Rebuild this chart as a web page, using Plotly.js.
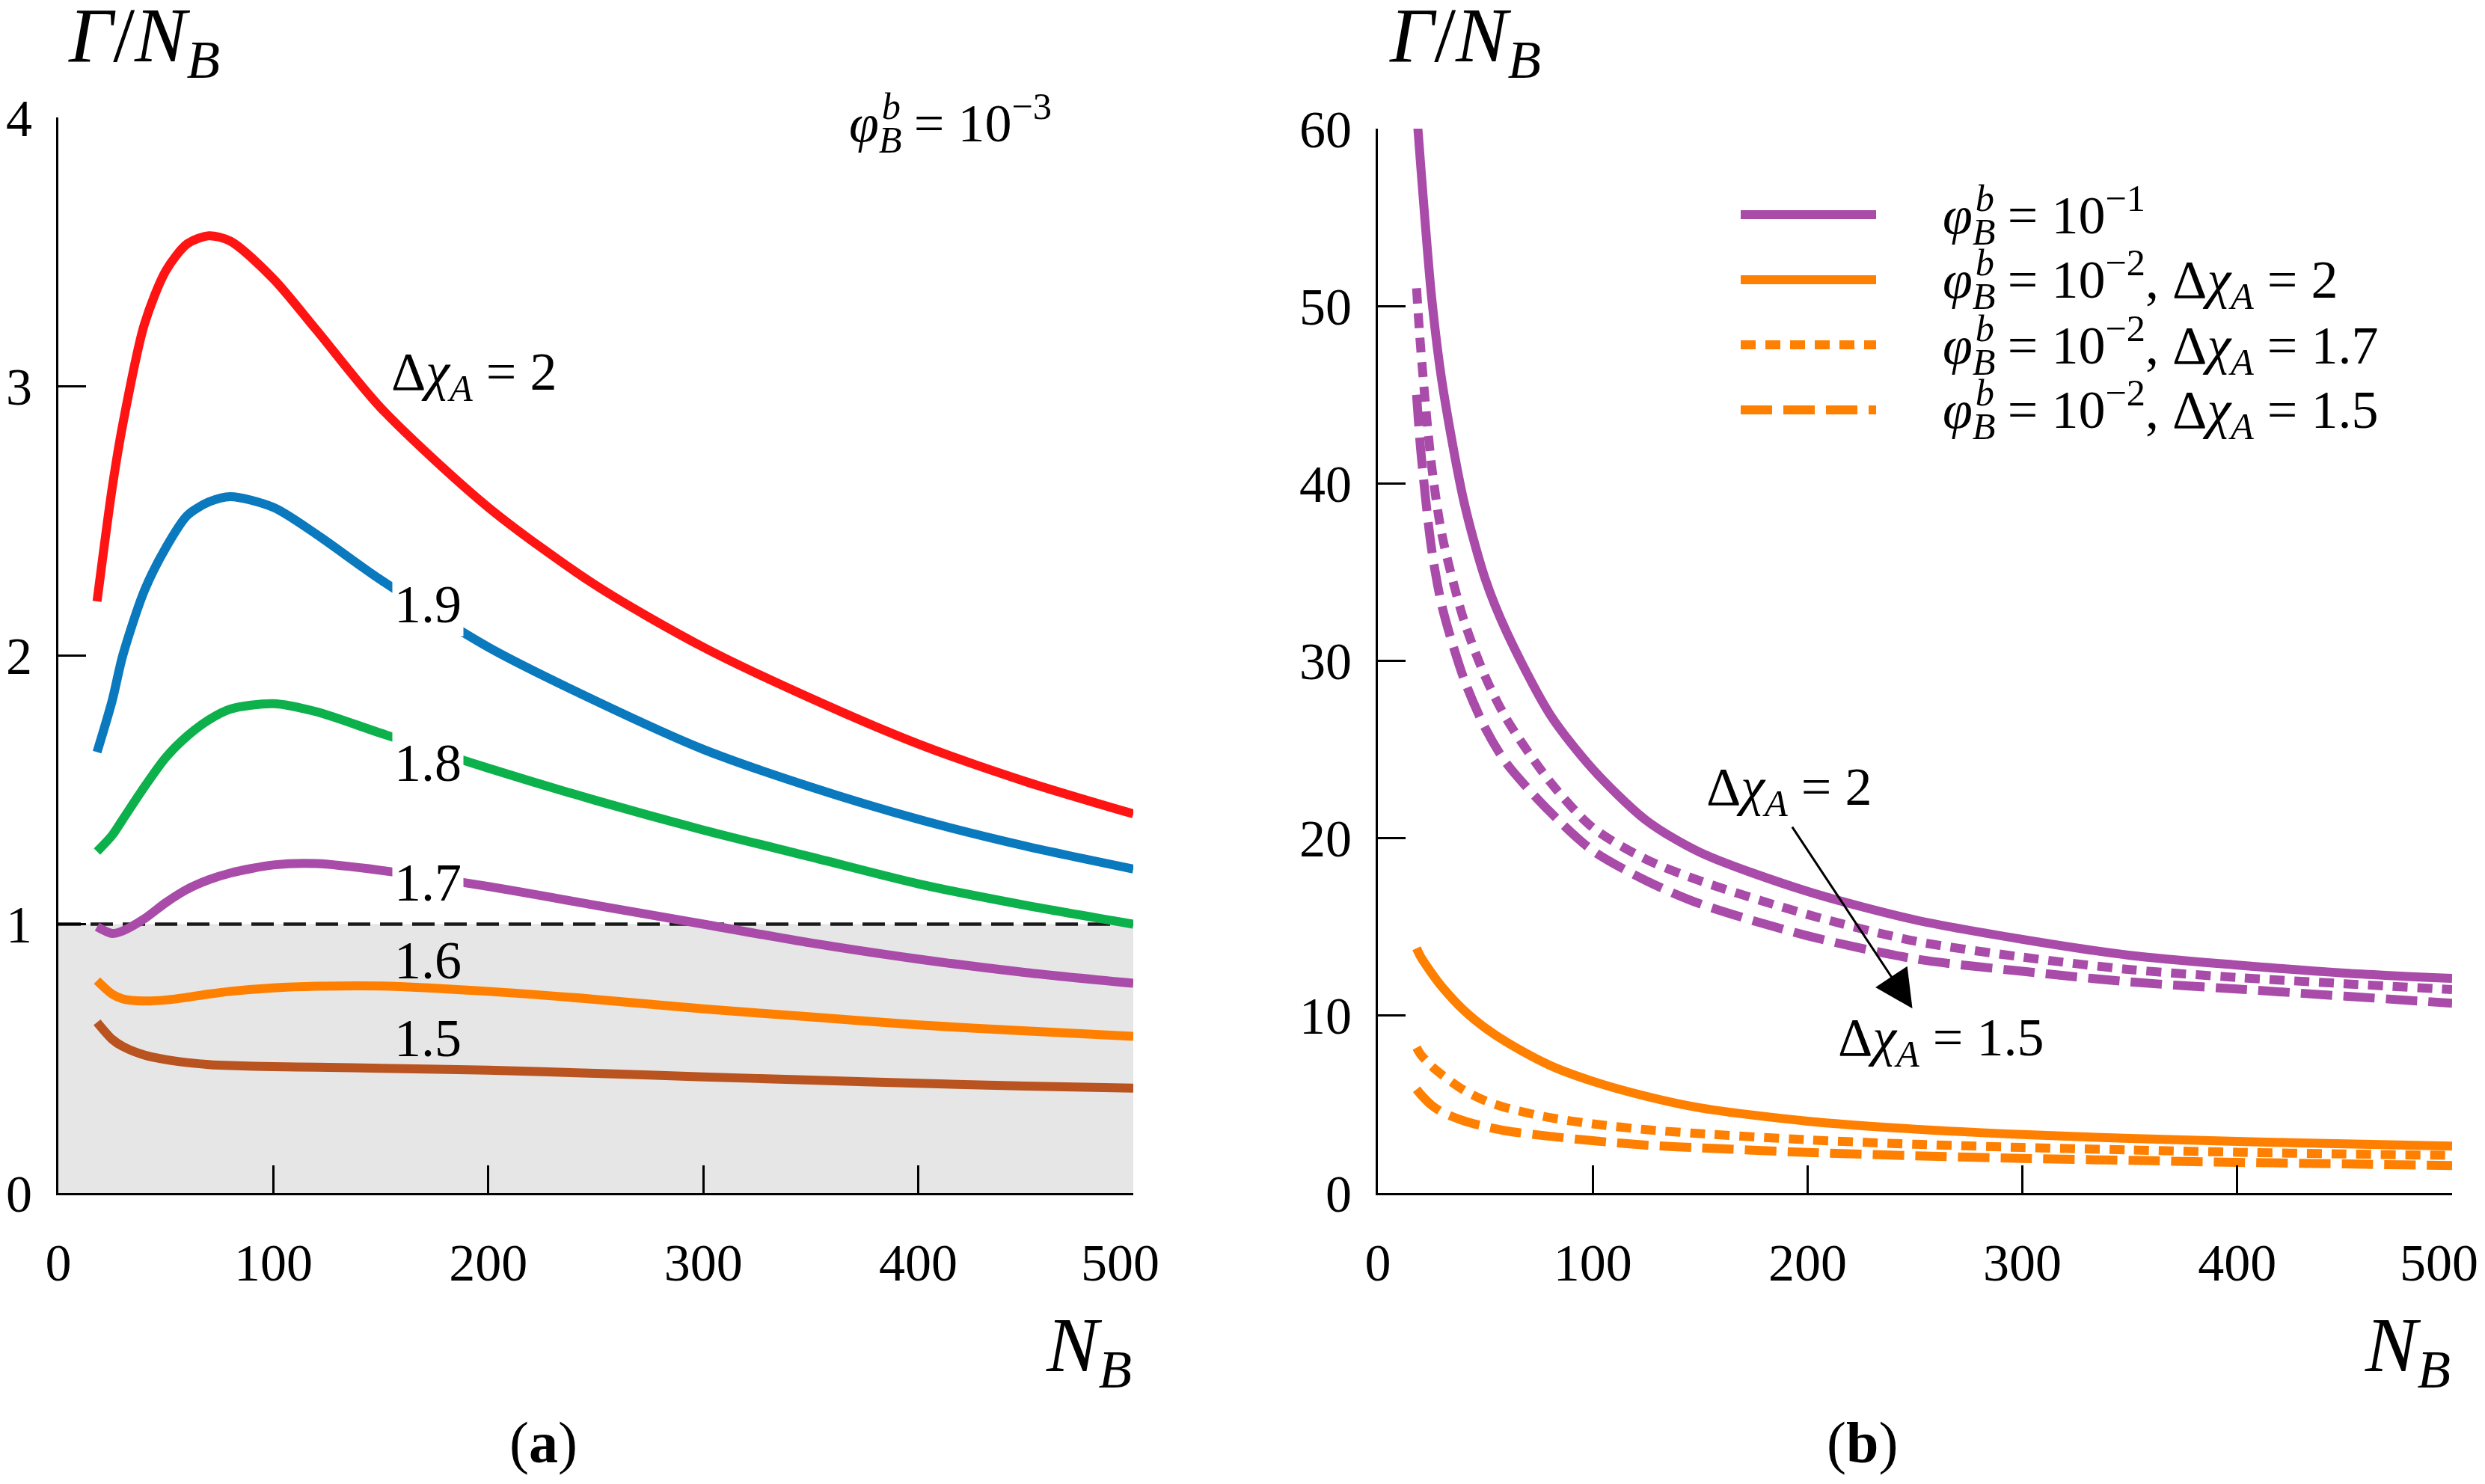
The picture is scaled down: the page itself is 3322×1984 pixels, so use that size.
<!DOCTYPE html>
<html>
<head>
<meta charset="utf-8">
<script src="https://cdn.plot.ly/plotly-3.0.1.min.js"></script>
<style>
  html, body { margin: 0; padding: 0; background: #fff; }
  #plotDiv { width: 3322px; height: 1984px; }
</style>
</head>
<body>
<div id="plotDiv"></div>
<script>
'use strict';

// panel (a): Gamma/N_B vs N_B, phi_B^b = 1e-3
const nbA = [18, 25, 30, 40, 50, 60, 70, 80, 100, 120, 150, 200, 250, 300, 350, 400, 450, 500];
const chi20 = [2.20, 2.62, 2.86, 3.23, 3.43, 3.53, 3.56, 3.54, 3.40, 3.21, 2.92, 2.55, 2.26, 2.03, 1.84, 1.67, 1.53, 1.41];
const chi19 = [1.64, 1.83, 2.00, 2.24, 2.40, 2.52, 2.57, 2.59, 2.55, 2.45, 2.28, 2.03, 1.83, 1.65, 1.51, 1.39, 1.29, 1.205];
const chi18 = [1.27, 1.33, 1.39, 1.51, 1.62, 1.70, 1.76, 1.80, 1.82, 1.79, 1.71, 1.58, 1.46, 1.35, 1.25, 1.15, 1.07, 1.00];
const chi17 = [0.99, 0.965, 0.975, 1.02, 1.08, 1.13, 1.165, 1.19, 1.22, 1.225, 1.20, 1.14, 1.07, 1.00, 0.93, 0.87, 0.82, 0.78];
const chi16 = [0.79, 0.74, 0.722, 0.714, 0.718, 0.728, 0.74, 0.75, 0.763, 0.769, 0.77, 0.75, 0.72, 0.685, 0.655, 0.625, 0.603, 0.583];
const chi15 = [0.635, 0.572, 0.545, 0.513, 0.496, 0.485, 0.478, 0.474, 0.47, 0.468, 0.464, 0.457, 0.445, 0.432, 0.42, 0.408, 0.398, 0.39];
const shadeX = [0, 500];
const shadeY = [1, 1];

// panel (b)
const nbB = [18, 20, 25, 30, 40, 50, 60, 80, 100, 125, 150, 200, 250, 300, 350, 400, 450, 500];
const p1chi20 = [61.0, 57.8, 50.5, 45.6, 39.0, 34.6, 31.6, 27.0, 23.9, 21.0, 19.2, 17.0, 15.4, 14.3, 13.4, 12.85, 12.4, 12.1];
const p1chi17 = [51.0, 47.5, 41.0, 37.0, 32.3, 29.1, 26.7, 23.2, 20.6, 18.8, 17.6, 15.7, 14.2, 13.3, 12.6, 12.15, 11.8, 11.47];
const p1chi15 = [45.0, 41.8, 36.3, 33.0, 29.0, 26.2, 24.2, 21.5, 19.3, 17.6, 16.3, 14.5, 13.2, 12.5, 11.9, 11.5, 11.1, 10.7];
const p2chi20 = [13.8, 13.3, 12.4, 11.6, 10.3, 9.3, 8.5, 7.2, 6.3, 5.45, 4.8, 4.05, 3.6, 3.3, 3.08, 2.91, 2.77, 2.65];
const p2chi17 = [8.2, 7.8, 7.15, 6.65, 5.8, 5.2, 4.8, 4.25, 3.9, 3.57, 3.35, 3.0, 2.75, 2.57, 2.43, 2.3, 2.2, 2.12];
const p2chi15 = [5.85, 5.55, 4.95, 4.55, 4.07, 3.75, 3.5, 3.2, 2.95, 2.7, 2.55, 2.29, 2.1, 1.95, 1.84, 1.73, 1.64, 1.55];

const xTicks = [0, 100, 200, 300, 400, 500];
// last label sits a little left of its tick in the original, padded with nbsp
const xTickText = ['0', '100', '200', '300', '400', '500\u00a0\u00a0'];
const yTicksA = [0, 1, 2, 3, 4];
const yTicksB = [0, 10, 20, 30, 40, 50, 60];

// b is pulled back over the subscript B with a negative letter-spacing
const phiB = '<i>φ</i><sub><span style="letter-spacing:-27px"><i>B</i></span></sub><sup><i>b</i></sup><span style="letter-spacing:0px"> </span>';
const dchi = 'Δ<i>χ</i><sub><i>A</i></sub>';
const legendText = [
    phiB + '= 10<sup>−1</sup>',
    phiB + '= 10<sup>−2</sup>, ' + dchi + ' = 2',
    phiB + '= 10<sup>−2</sup>, ' + dchi + ' = 1.7',
    phiB + '= 10<sup>−2</sup>, ' + dchi + ' = 1.5'
];

const PURPLE = '#a94ca9';
const ORANGE = '#ff8000';
const DOT = '20px,13px';
const DASH = '42px,15px';
const legendColor = [PURPLE, ORANGE, ORANGE, ORANGE];
const legendDash = ['solid', 'solid', DOT, DASH];

const W = 3322, H = 1984;
const FONT = '"Liberation Serif", "Times New Roman", serif';

function px(x){ return x / W; }
function py(y){ return 1 - y / H; }

function curve(x, y, color, dash, xa, ya){
    return {
        x: x, y: y, type: 'scatter', mode: 'lines',
        xaxis: xa, yaxis: ya,
        line: {color: color, width: 12, dash: dash, shape: 'spline', smoothing: 0.8},
        hoverinfo: 'skip', showlegend: false
    };
}

var data = [
    {
        x: shadeX, y: shadeY, type: 'scatter', mode: 'lines', fill: 'tozeroy',
        fillcolor: '#e6e6e6', xaxis: 'x', yaxis: 'y',
        line: {color: '#1a1a1a', width: 4.5, dash: '30px,13px'},
        hoverinfo: 'skip', showlegend: false
    },
    curve(nbA, chi15, '#b9531f', 'solid', 'x', 'y'),
    curve(nbA, chi16, ORANGE, 'solid', 'x', 'y'),
    curve(nbA, chi17, PURPLE, 'solid', 'x', 'y'),
    curve(nbA, chi18, '#0cb14b', 'solid', 'x', 'y'),
    curve(nbA, chi19, '#0a79bd', 'solid', 'x', 'y'),
    curve(nbA, chi20, '#ff1414', 'solid', 'x', 'y'),

    curve(nbB, p1chi20, PURPLE, 'solid', 'x2', 'y2'),
    curve(nbB, p1chi17, PURPLE, DOT, 'x2', 'y2'),
    curve(nbB, p1chi15, PURPLE, DASH, 'x2', 'y2'),
    curve(nbB, p2chi20, ORANGE, 'solid', 'x2', 'y2'),
    curve(nbB, p2chi17, ORANGE, DOT, 'x2', 'y2'),
    curve(nbB, p2chi15, ORANGE, DASH, 'x2', 'y2')
];

function axis(extra){
    var a = {
        showline: true, linecolor: '#000', linewidth: 3,
        ticks: 'inside', ticklen: 37, tickwidth: 3, tickcolor: '#000',
        showgrid: false, zeroline: false, fixedrange: true,
        ticklabeloverflow: 'allow',
        tickfont: {family: FONT, size: 70, color: '#000'}
    };
    for (var k in extra) a[k] = extra[k];
    return a;
}

function label(text, x, y, xref, yref, opts){
    var a = {
        text: text, x: x, y: y, xref: xref, yref: yref, showarrow: false,
        font: {family: FONT, size: 72, color: '#000'},
        xanchor: 'center', yanchor: 'middle'
    };
    for (var k in opts) a[k] = opts[k];
    return a;
}

const TITLE = '<i>Γ</i>/<i>N</i><sub><i>B</i></sub>';
const NB = '<i>N</i><sub><i>B</i></sub>';
const BIG = {family: FONT, size: 104, color: '#000'};

var annotations = [
    label(TITLE, px(89), py(54), 'paper', 'paper', {xanchor: 'left', font: BIG}),
    label(TITLE, px(1855), py(54), 'paper', 'paper', {xanchor: 'left', font: BIG}),
    label(NB, px(1515), py(1805), 'paper', 'paper', {xanchor: 'right', font: BIG}),
    label(NB, px(3278), py(1805), 'paper', 'paper', {xanchor: 'right', font: BIG}),
    label('(<b>a</b>)', px(726), py(1928), 'paper', 'paper', {font: {family: FONT, size: 78, color: '#000'}}),
    label('(<b>b</b>)', px(2489), py(1928), 'paper', 'paper', {font: {family: FONT, size: 78, color: '#000'}}),
    label(phiB + '= 10<sup>−3</sup>', px(1133), py(165), 'paper', 'paper', {xanchor: 'left'}),

    label(dchi + ' = 2', 154, 3.04, 'x', 'y', {xanchor: 'left'}),
    label('1.9', 172, 2.19, 'x', 'y', {bgcolor: '#fff', borderpad: 2}),
    label('1.8', 172, 1.60, 'x', 'y', {bgcolor: '#fff', borderpad: 2}),
    label('1.7', 172, 1.155, 'x', 'y', {bgcolor: '#fff', borderpad: 2}),
    label('1.6', 172, 0.865, 'x', 'y'),
    label('1.5', 172, 0.575, 'x', 'y'),

    label(dchi + ' = 2', 152, 22.7, 'x2', 'y2', {xanchor: 'left'}),
    label(dchi + ' = 1.5', 262, 8.56, 'x2', 'y2'),
    {
        text: '', x: 248.8, y: 10.4, xref: 'x2', yref: 'y2',
        ax: 192.5, ay: 20.7, axref: 'x2', ayref: 'y2',
        showarrow: true, arrowhead: 2, arrowsize: 3.4, arrowwidth: 3, arrowcolor: '#000'
    }
];

// legend of panel (b): long sample lines + text
const legendRows = [287, 374, 461, 548];
var shapes = [];
for (var i = 0; i < legendText.length; i++) {
    shapes.push({
        type: 'line', xref: 'paper', yref: 'paper',
        x0: px(2327), x1: px(2508), y0: py(legendRows[i]), y1: py(legendRows[i]),
        line: {color: legendColor[i], width: 12, dash: legendDash[i]}
    });
    annotations.push(label(legendText[i], px(2595), py(legendRows[i]), 'paper', 'paper', {xanchor: 'left'}));
}

var layout = {
    width: W, height: H,
    margin: {l: 0, r: 0, t: 0, b: 0, pad: 0},
    paper_bgcolor: '#fff', plot_bgcolor: 'rgba(0,0,0,0)',
    showlegend: false,
    xaxis: axis({domain: [px(78), px(1515)], range: [0, 500], tickvals: xTicks, ticktext: xTickText, anchor: 'y', ticklabelstandoff: 30}),
    yaxis: axis({domain: [py(1595), py(157)], range: [0, 4], tickvals: yTicksA, anchor: 'x', ticklabelstandoff: 18}),
    xaxis2: axis({domain: [px(1842), px(3278)], range: [0, 500], tickvals: xTicks, ticktext: xTickText, anchor: 'y2', ticklabelstandoff: 30}),
    yaxis2: axis({domain: [py(1595), py(172)], range: [0, 60], tickvals: yTicksB, anchor: 'x2', ticklabelstandoff: 18}),
    annotations: annotations,
    shapes: shapes
};

Plotly.newPlot('plotDiv', data, layout, {staticPlot: true, displayModeBar: false});
</script>
</body>
</html>
